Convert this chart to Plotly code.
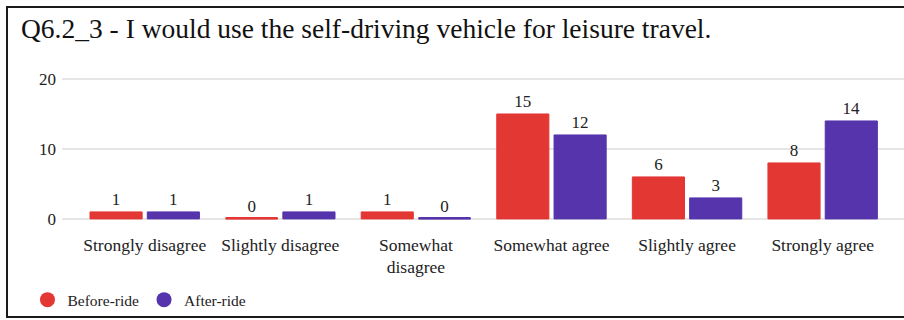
import plotly.graph_objects as go

# Survey responses: Q6.2_3 leisure-travel use, before and after the ride
categories = ["Strongly disagree", "Slightly disagree", "Somewhat<br>disagree",
              "Somewhat agree", "Slightly agree", "Strongly agree"]
before_ride = [1, 0, 1, 15, 6, 8]
after_ride = [1, 1, 0, 12, 3, 14]
y_ticks = [0, 10, 20]

RED = "#E33734"
PURPLE = "#5534AC"
FONT = "Liberation Serif, Times New Roman, serif"
TEXT = "#222222"

# a hairline is drawn for zero counts so the empty category still shows a bar
ZERO_STUB = 0.28


def stub(values):
    return [ZERO_STUB if v == 0 else None for v in values]


fig = go.Figure()

for name, vals, color, grp in [("Before-ride", before_ride, RED, "a"),
                               ("After-ride", after_ride, PURPLE, "b")]:
    fig.add_trace(go.Bar(
        x=categories, y=vals, name=name, offsetgroup=grp,
        marker=dict(color=color, line=dict(color=color, width=1)),
        text=vals, textposition="outside", cliponaxis=False,
        textfont=dict(family=FONT, size=17, color=TEXT),
        showlegend=False,
    ))
    fig.add_trace(go.Bar(
        x=categories, y=stub(vals), offsetgroup=grp,
        marker=dict(color=color, line=dict(width=0)),
        showlegend=False, hoverinfo="skip",
    ))
    # circular legend swatch
    fig.add_trace(go.Scatter(
        x=[None], y=[None], mode="markers", name=name,
        marker=dict(color=color, size=15, symbol="circle"),
    ))

fig.update_layout(
    width=904, height=320,
    margin=dict(l=62, r=0, t=65, b=99),
    paper_bgcolor="white", plot_bgcolor="white",
    barmode="group", bargap=0.155, bargroupgap=0.09,
    font=dict(family=FONT, size=17, color=TEXT),
    title=dict(
        text="Q6.2_3 - I would use the self-driving vehicle for leisure travel.",
        font=dict(family=FONT, size=27.5, color="#111111"),
        x=21 / 904, xanchor="left", xref="container",
        y=1 - 28 / 320, yanchor="middle", yref="container",
    ),
    xaxis=dict(
        range=[-0.61, 5.6], showgrid=False, zeroline=False, showline=False,
        ticks="", ticklabelstandoff=11,
        tickfont=dict(family=FONT, size=17.5, color=TEXT),
    ),
    yaxis=dict(
        range=[-0.3, 22.0], tickvals=y_ticks, showgrid=True,
        gridcolor="#E6E6E6", gridwidth=1.5, zeroline=False, showline=False,
        ticks="", ticklabelstandoff=5,
        tickfont=dict(family=FONT, size=17, color=TEXT),
    ),
    legend=dict(
        orientation="h", x=-0.041, xanchor="left", y=-0.398, yanchor="top",
        font=dict(family=FONT, size=15.5, color=TEXT),
        bgcolor="rgba(0,0,0,0)",
        itemsizing="trace", traceorder="normal",
    ),
    shapes=[dict(
        type="rect", xref="paper", yref="paper",
        x0=(7 - 62) / 842, x1=(910 - 62) / 842,
        y0=(221 - 317) / 156, y1=(221 - 7) / 156,
        line=dict(color="#1A1A1A", width=2), fillcolor="rgba(0,0,0,0)",
        layer="above",
    )],
)

fig.write_html("out.html")
